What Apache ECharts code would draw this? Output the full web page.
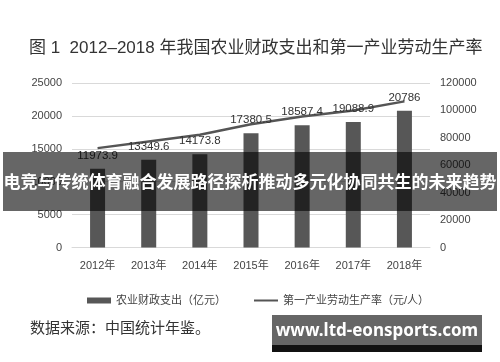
<!DOCTYPE html>
<html><head><meta charset="utf-8">
<script src="https://cdn.jsdelivr.net/npm/echarts@6/dist/echarts.min.js"></script>
<style>html,body{margin:0;padding:0;background:#fff}#c{width:500px;height:362px}</style>
</head><body><div id="c"></div>
<script>
const years = ['2012年','2013年','2014年','2015年','2016年','2017年','2018年'];
const fiscalSpending = [11973.9, 13349.6, 14173.8, 17380.5, 18587.4, 19088.9, 20786];
const laborProductivity = [72500, 77400, 82300, 89900, 95600, 100000, 106600];
const leftTicks = {min: 0, max: 25000, interval: 5000};
const rightTicks = {min: 0, max: 120000, interval: 20000};
const barName = '农业财政支出（亿元）';
const lineName = '第一产业劳动生产率（元/人）';
const titleText = '图 1  2012–2018 年我国农业财政支出和第一产业劳动生产率';
const sourceText = '数据来源：中国统计年鉴。';
const bannerText = '电竞与传统体育融合发展路径探析推动多元化协同共生的未来趋势';
const siteText = 'www.ltd-eonsports.com';

const FONT = 'Liberation Sans, Noto Sans CJK SC, sans-serif';
const labelPlace = [['bottom',2],['bottom',0],['bottom',0],['top',-1],['top',-1],['top',-4],['top',-2]];

const chart = echarts.init(document.getElementById('c'), null, {renderer:'canvas'});
chart.setOption({
  backgroundColor: '#fff',
  animation: false,
  title: {text: titleText, left: 24, top: 35,
    textStyle: {fontSize: 17, fontWeight: 'normal', color: '#333', fontFamily: FONT}},
  grid: {left: 72, right: 70, top: 83, bottom: 114.5, containLabel: false},
  legend: [
    {data: [{name: barName, icon: 'rect'}], left: 82, top: 290, itemWidth: 24, itemHeight: 6,
      textStyle: {fontSize: 11, color: '#444', fontFamily: FONT}},
    {data: [{name: lineName, icon: 'rect'}], left: 249, top: 290, itemWidth: 24, itemHeight: 2,
      textStyle: {fontSize: 11, color: '#444', fontFamily: FONT}}
  ],
  xAxis: {type: 'category', data: years,
    axisLine: {lineStyle: {color: '#d9d9d9'}}, axisTick: {show: false},
    axisLabel: {fontSize: 11, color: '#444', margin: 13, fontFamily: FONT}},
  yAxis: [
    {type: 'value', min: leftTicks.min, max: leftTicks.max, interval: leftTicks.interval,
      axisLine: {show: false}, axisTick: {show: false},
      axisLabel: {fontSize: 11, color: '#444', margin: 10, fontFamily: FONT, formatter: v => String(v)},
      splitLine: {lineStyle: {color: '#d9d9d9', width: 1}}},
    {type: 'value', min: rightTicks.min, max: rightTicks.max, interval: rightTicks.interval,
      axisLine: {show: false}, axisTick: {show: false},
      axisLabel: {fontSize: 11, color: '#444', margin: 10, fontFamily: FONT, formatter: v => String(v)},
      splitLine: {show: false}}
  ],
  series: [
    {name: barName, type: 'bar', yAxisIndex: 0, data: fiscalSpending, barWidth: 15,
      itemStyle: {color: '#575757'}},
    {name: lineName, type: 'line', yAxisIndex: 1, symbol: 'circle', symbolSize: 0.1, showSymbol: true,
      lineStyle: {color: '#555', width: 2.5}, itemStyle: {color: '#555'},
      label: {show: true, fontSize: 11.5, color: '#333', fontFamily: FONT,
        formatter: p => String(fiscalSpending[p.dataIndex])},
      data: laborProductivity.map((v, i) => ({value: v,
        label: {position: labelPlace[i][0], distance: labelPlace[i][1]}}))}
  ],
  graphic: [
    {type: 'text', left: 30, top: 320, z: 50,
      style: {text: sourceText, fontSize: 15, fill: '#333', fontFamily: 'Noto Sans CJK SC'}},
    {type: 'rect', shape: {x: 3, y: 152, width: 494, height: 59}, z: 100,
      style: {fill: 'rgba(0,0,0,0.6)'}},
    {type: 'text', x: 250, y: 182, z: 101,
      style: {text: bannerText, fontSize: 17, fontWeight: 'bold', fill: '#fff',
        fontFamily: 'Noto Sans CJK SC', align: 'center', verticalAlign: 'middle'}},
    {type: 'rect', shape: {x: 272, y: 315, width: 210, height: 37}, z: 100,
      style: {fill: '#666'}},
    {type: 'rect', shape: {x: 272, y: 345, width: 210, height: 7}, z: 100,
      style: {fill: '#111'}},
    {type: 'text', x: 377, y: 331, z: 101,
      style: {text: siteText, fontSize: 17, fontWeight: 'bold', fill: '#fff',
        fontFamily: 'Noto Sans, sans-serif', align: 'center', verticalAlign: 'middle'}}
  ]
});
</script></body></html>
